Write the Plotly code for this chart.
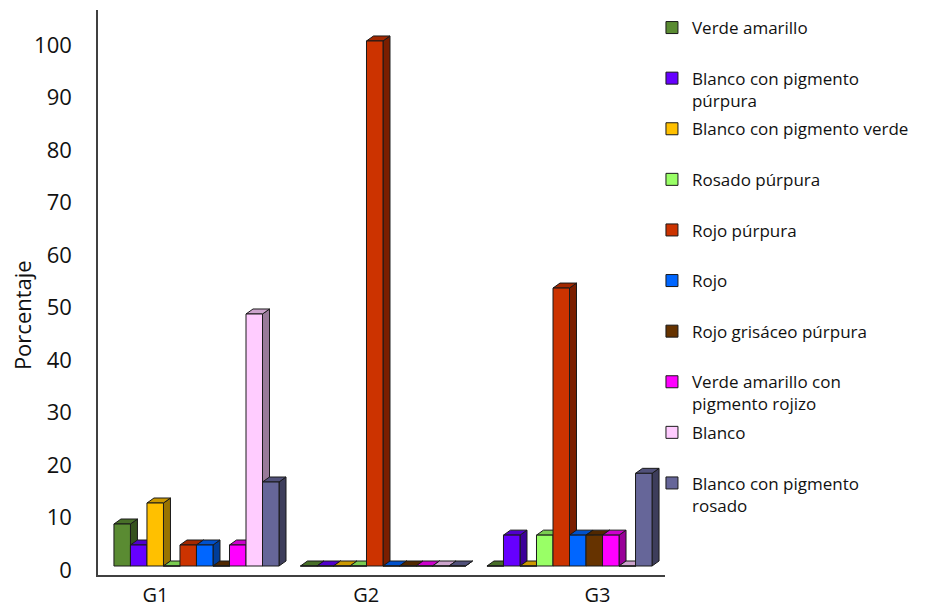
import plotly.graph_objects as go

# ---- data -------------------------------------------------------------
groups = ["G1", "G2", "G3"]

series_names = [
    "Verde amarillo",
    "Blanco con pigmento púrpura",
    "Blanco con pigmento verde",
    "Rosado púrpura",
    "Rojo púrpura",
    "Rojo",
    "Rojo grisáceo púrpura",
    "Verde amarillo con pigmento rojizo",
    "Blanco",
    "Blanco con pigmento rosado",
]

# legend text, wrapped as two lines per entry so every entry takes the same slot
legend_labels = [
    "Verde amarillo<br>\u00a0",
    "Blanco con pigmento<br>púrpura",
    "Blanco con pigmento verde<br>\u00a0",
    "Rosado púrpura<br>\u00a0",
    "Rojo púrpura<br>\u00a0",
    "Rojo<br>\u00a0",
    "Rojo grisáceo púrpura<br>\u00a0",
    "Verde amarillo con<br>pigmento rojizo",
    "Blanco<br>\u00a0",
    "Blanco con pigmento<br>rosado",
]

series_colors = [
    "#5A8B32", "#6600FF", "#FFC000", "#99FF66", "#CC3300",
    "#0066FF", "#663300", "#FF00FF", "#FFCCFF", "#666699",
]

g1_values = [8, 4, 12, 0, 4, 4, 0, 4, 48, 16]
g2_values = [0, 0, 0, 0, 100, 0, 0, 0, 0, 0]
g3_values = [0, 5.88, 0, 5.88, 52.94, 5.88, 5.88, 5.88, 0, 17.65]

y_ticks = list(range(0, 101, 10))

group_values = [g1_values, g2_values, g3_values]

# ---- geometry ---------------------------------------------------------
FIG_W, FIG_H = 927, 609
MARGIN = dict(l=98, r=262, t=10, b=34, pad=0)
X_RANGE = [-0.528, 2.512]
Y_RANGE = [-1.714, 105.9]
BAR_W = 0.0885            # width of one bar in category units
DEPTH_PX = (7, 5)          # 3-D extrusion (right, up) in pixels
LABEL_SHIFT = [-0.22, -0.09, 0.15]   # category label offsets under each group

plot_w = FIG_W - MARGIN["l"] - MARGIN["r"]
plot_h = FIG_H - MARGIN["t"] - MARGIN["b"]
dx = DEPTH_PX[0] * (X_RANGE[1] - X_RANGE[0]) / plot_w
dy = DEPTH_PX[1] * (Y_RANGE[1] - Y_RANGE[0]) / plot_h

FONT = "Open Sans, Noto Sans, sans-serif"
EDGE = "#1a1a1a"
TEXT = "#111111"


def shade(hex_color, f):
    h = hex_color.lstrip("#")
    r, g, b = (int(h[k:k + 2], 16) for k in (0, 2, 4))
    return "rgb({},{},{})".format(int(r * f), int(g * f), int(b * f))


fig = go.Figure()

# side and top faces of every bar (drawn beneath the front faces)
for i, name in enumerate(series_names):
    color = series_colors[i]
    top_x, top_y, side_x, side_y = [], [], [], []
    for g, vals in enumerate(group_values):
        v = vals[i]
        x0 = g + (i - 4.5) * BAR_W - BAR_W / 2
        x1 = x0 + BAR_W
        top_x += [x0, x1, x1 + dx, x0 + dx, x0, None]
        top_y += [v, v, v + dy, v + dy, v, None]
        side_x += [x1, x1 + dx, x1 + dx, x1, x1, None]
        side_y += [0, dy, v + dy, v, 0, None]
    fig.add_trace(go.Scatter(
        x=side_x, y=side_y, mode="lines", fill="toself",
        fillcolor=shade(color, 0.6), line=dict(color=EDGE, width=1),
        legendgroup=name, showlegend=False, hoverinfo="skip",
        xaxis="x", yaxis="y"))
    fig.add_trace(go.Scatter(
        x=top_x, y=top_y, mode="lines", fill="toself",
        fillcolor=shade(color, 0.8), line=dict(color=EDGE, width=1),
        legendgroup=name, showlegend=False, hoverinfo="skip",
        xaxis="x", yaxis="y"))

# front faces as real bars on an overlaid subplot
for i, name in enumerate(series_names):
    fig.add_trace(go.Bar(
        x=[g + (i - 4.5) * BAR_W for g in range(len(groups))],
        y=[vals[i] for vals in group_values],
        width=BAR_W,
        name=legend_labels[i],
        legendgroup=name,
        marker=dict(color=series_colors[i], line=dict(color=EDGE, width=1)),
        hovertemplate=name + ": %{y}%<extra></extra>",
        xaxis="x2", yaxis="y2"))

fig.update_layout(
    width=FIG_W, height=FIG_H,
    margin=MARGIN,
    paper_bgcolor="white", plot_bgcolor="white",
    barmode="overlay",
    font=dict(family=FONT, color=TEXT),
    xaxis=dict(
        range=X_RANGE, showgrid=False, zeroline=False, automargin=False,
        showline=True, linecolor="#404040", linewidth=1.5,
        tickmode="array",
        tickvals=[g + LABEL_SHIFT[g] for g in range(len(groups))],
        ticktext=groups, ticks="", ticklen=0, ticklabelstandoff=1,
        tickfont=dict(size=20, color=TEXT),
    ),
    yaxis=dict(
        range=Y_RANGE, showgrid=False, zeroline=False, automargin=False,
        showline=True, linecolor="#404040", linewidth=1.5,
        tickmode="array", tickvals=y_ticks, ticks="",
        ticklabelstandoff=20, ticklabelshift=4,
        tickfont=dict(size=22, color=TEXT),
    ),
    xaxis2=dict(range=X_RANGE, overlaying="x", anchor="y2", visible=False),
    yaxis2=dict(range=Y_RANGE, overlaying="y", anchor="x2", visible=False),
    legend=dict(
        x=0.977, xanchor="left", y=1.0, yanchor="top",
        font=dict(size=17, color=TEXT, family=FONT),
        valign="top", tracegroupgap=3.4, itemwidth=30,
        bgcolor="rgba(0,0,0,0)",
    ),
    annotations=[dict(
        text="Porcentaje", textangle=-90, showarrow=False,
        xref="paper", yref="paper", x=-0.134, y=0.46,
        xanchor="center", yanchor="middle",
        font=dict(size=22, color=TEXT),
    )],
)

fig.write_html("out.html")
